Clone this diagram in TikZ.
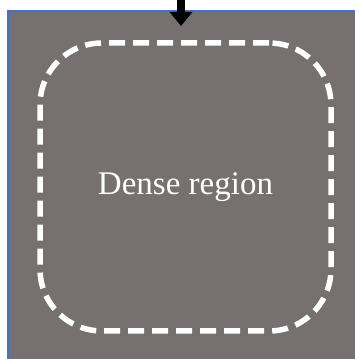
\documentclass[tikz,border=0pt]{standalone}
\usepackage{fontspec}
\setmainfont{Liberation Serif}
\usepackage{tikz}
\usetikzlibrary{arrows.meta, positioning}
\usepackage{xcolor}
\definecolor{regiongray}{RGB}{118, 113, 112}
\definecolor{frameblue}{RGB}{68, 114, 196}

\begin{document}
\begin{tikzpicture}[x=1pt, y=1pt]
    % Define styles
    \tikzstyle{region} = [rectangle, draw=white, line width=5.5pt, dash pattern=on 16pt off 8pt, rounded corners=62pt, minimum width=291pt, minimum height=288pt, text=white, font=\fontsize{33}{40}\selectfont]
    \tikzstyle{pointer} = [-{Triangle[width=22pt, length=14pt]}, line width=8pt, black]

    \useasboundingbox (0,0) rectangle (355,359);
    \clip (0,0) rectangle (355,359);

    % Background
    \fill[regiongray] (8,0) rectangle (360,348);
    \draw[frameblue, line width=1.5pt] (8,-5) -- (8,348) -- (360,348);

    % Nodes
    \node[region] (dense) at (185.5,172) {Dense region};
    \coordinate (arrowtop) at (181,365);
    \coordinate (arrowtip) at (181,333);

    % Arrows
    \draw[pointer] (arrowtop) -- (arrowtip);
\end{tikzpicture}
\end{document}
